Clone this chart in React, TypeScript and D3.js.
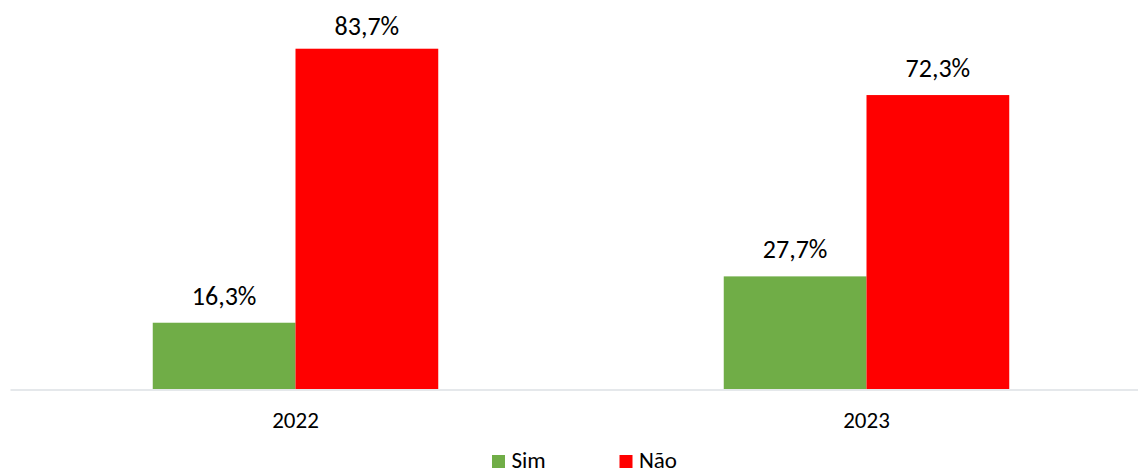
import React, { useEffect, useRef } from "react";
import { select, scaleBand, scaleLinear, axisBottom } from "d3";

const years = ["2022", "2023"];
const seriesNames = ["Sim", "Não"];
const simValues = [16.3, 27.7];
const naoValues = [83.7, 72.3];
const seriesColors = ["#70AD47", "#FF0000"];

const W = 1138;
const H = 469;
const FONT = "Calibri, Carlito, 'Open Sans', sans-serif";

const fmt = (v: number) => v.toFixed(1).replace(".", ",") + "%";

export default function App() {
  const svgRef = useRef<SVGSVGElement>(null);

  useEffect(() => {
    const svg = select(svgRef.current);
    svg.selectAll("*").remove();

    const baseY = 389.5;
    const x0 = scaleBand<string>()
      .domain(years)
      .range([10, 1152])
      .paddingInner(0.5)
      .paddingOuter(0.25);
    const x1 = scaleBand<string>()
      .domain(seriesNames)
      .range([0, x0.bandwidth()]);
    const y = scaleLinear().domain([0, 90]).range([389, 23.1]);

    const rows = years.map((yr, i) => ({
      year: yr,
      vals: [simValues[i], naoValues[i]],
    }));

    // axis line + year labels
    const ax = svg
      .append("g")
      .attr("transform", `translate(0, ${baseY})`)
      .call(axisBottom(x0).tickSize(0).tickPadding(22.5));
    ax.select(".domain").attr("stroke", "#DCE0E5").attr("stroke-width", 1.4);
    ax.selectAll("text")
      .attr("font-family", FONT)
      .attr("font-size", 23)
      .attr("fill", "#000");

    const groups = svg
      .selectAll(".grp")
      .data(rows)
      .join("g")
      .attr("class", "grp")
      .attr("transform", (d) => `translate(${x0(d.year)}, 0)`);

    groups
      .selectAll("rect")
      .data((d) => d.vals.map((v, k) => ({ v, k })))
      .join("rect")
      .attr("x", (d) => x1(seriesNames[d.k])!)
      .attr("width", x1.bandwidth())
      .attr("y", (d) => y(d.v))
      .attr("height", (d) => y(0) - y(d.v))
      .attr("fill", (d) => seriesColors[d.k]);

    groups
      .selectAll("text")
      .data((d) => d.vals.map((v, k) => ({ v, k })))
      .join("text")
      .attr("x", (d) => x1(seriesNames[d.k])! + x1.bandwidth() / 2)
      .attr("y", (d) => Math.max(y(d.v) - 18, 35))
      .attr("text-anchor", "middle")
      .attr("font-family", FONT)
      .attr("font-size", 26)
      .attr("fill", "#000")
      .text((d) => fmt(d.v));

    // legend
    const legendX = [492, 619.5];
    const leg = svg
      .selectAll(".leg")
      .data(seriesNames)
      .join("g")
      .attr("class", "leg")
      .attr("transform", (_d, i) => `translate(${legendX[i]}, 455)`);
    leg
      .append("rect")
      .attr("width", 13)
      .attr("height", 13)
      .attr("fill", (_d, i) => seriesColors[i]);
    leg
      .append("text")
      .attr("x", 19.5)
      .attr("y", 13)
      .attr("font-family", FONT)
      .attr("font-size", 23)
      .attr("fill", "#000")
      .text((d) => d);
  }, []);

  return (
    <svg
      ref={svgRef}
      width={W}
      height={H}
      style={{ position: "absolute", left: 0, top: 0, background: "#fff" }}
    />
  );
}
